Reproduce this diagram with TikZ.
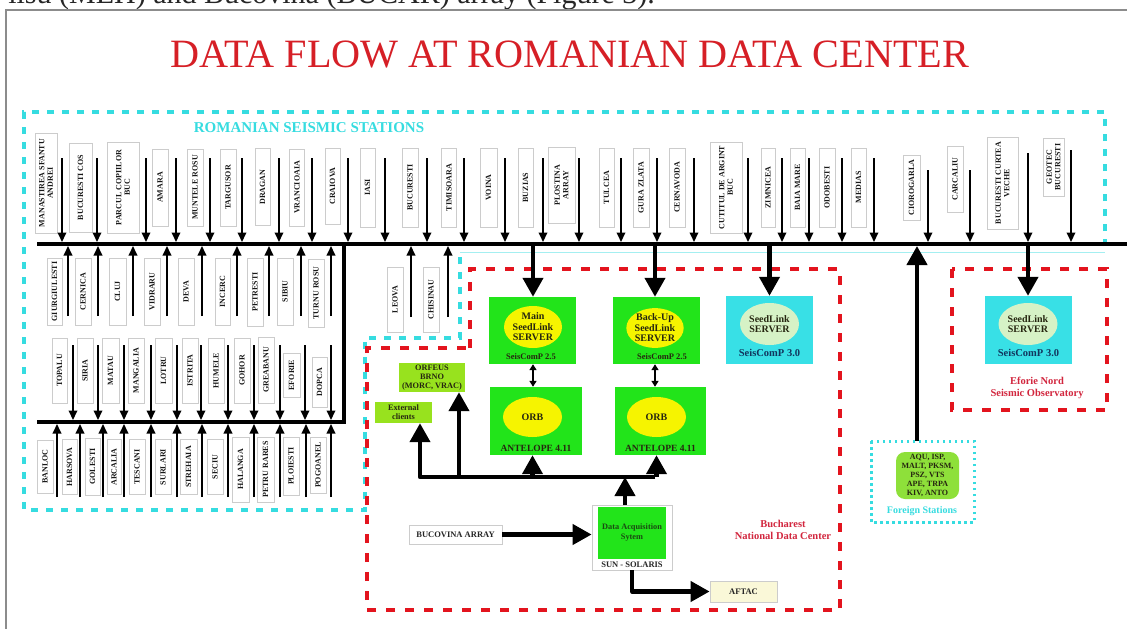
\documentclass[tikz,border=0pt]{standalone}
\usepackage{fontspec}
\setmainfont{Liberation Serif}
\usetikzlibrary{arrows.meta,shapes.geometric,calc}
\definecolor{tred}{HTML}{D61F26}
\definecolor{cyn}{HTML}{36DCE0}
\definecolor{rdc}{HTML}{E3141E}
\definecolor{grn}{HTML}{22E41A}
\definecolor{ylw}{HTML}{F6F400}
\definecolor{cbox}{HTML}{38E0E6}
\definecolor{lgell}{HTML}{D6F2C6}
\definecolor{lime}{HTML}{98E21E}
\definecolor{fgrn}{HTML}{8EE03A}
\definecolor{aftc}{HTML}{FAF8D8}
\definecolor{ndcred}{HTML}{D2263E}
\definecolor{dtxt}{HTML}{262610}
\definecolor{navy}{HTML}{12365E}
\definecolor{dasg}{HTML}{1A4A12}
\newcommand\stnode[6]{\node[stn, minimum width=#4pt, minimum height=#5pt] (#1) at (#2,#3) {#6};}
\begin{document}
\begin{tikzpicture}[x=1pt,y=-1pt,
  stn/.style={draw=black!20, line width=0.7pt, fill=white, inner sep=0pt, align=center, rotate=90,
    font=\bfseries\fontsize{8}{8.6}\selectfont, text=black!90},
  sarr/.style={line width=2pt, -{Triangle[width=8.5pt,length=9.5pt]}},
  barr/.style={line width=4.2pt, line join=round, -{Triangle[width=20pt,length=19pt]}},
  darr/.style={line width=1.8pt, {Triangle[width=7pt,length=6pt]}-{Triangle[width=7pt,length=6pt]}},
  cdash/.style={cyn, line width=3.5pt, dash pattern=on 7pt off 8pt},
  rdash/.style={rdc, line width=3.5pt, dash pattern=on 9pt off 10pt},
  gbox/.style={fill=grn, draw=none, inner sep=0pt},
  cybox/.style={fill=cbox, draw=none, inner sep=0pt},
  yell/.style={ellipse, fill=ylw, inner sep=0pt, align=center, text=dtxt,
    font=\bfseries\fontsize{10}{10.5}\selectfont},
  lgel/.style={ellipse, fill=lgell, inner sep=0pt, align=center, text=dtxt,
    font=\bfseries\fontsize{10}{10.5}\selectfont},
  sclbl/.style={inner sep=0pt, font=\bfseries\fontsize{8.5}{9}\selectfont, text=dtxt},
  sc3lbl/.style={inner sep=0pt, font=\bfseries\fontsize{10.5}{11}\selectfont, text=navy},
  lbox/.style={fill=lime, draw=none, inner sep=0pt, align=center, text=dtxt,
    font=\bfseries\fontsize{8.3}{9}\selectfont},
  wbox/.style={fill=white, draw=black!20, line width=0.8pt, inner sep=0pt, align=center,
    font=\bfseries\fontsize{8.5}{9}\selectfont, text=black!85},
  redlbl/.style={inner sep=0pt, align=center, text=ndcred, font=\bfseries\fontsize{10.5}{12}\selectfont}
]
\useasboundingbox (0,0) rectangle (1127,629);
\fill[white] (0,0) rectangle (1127,629);

% page text cut at top and frame
\node[anchor=base east, inner sep=0pt, text=black!85, font=\fontsize{30}{32}\selectfont] (ptxt) at (655,3) {ilsu (MEH) and Bucovina (BUCAR) array (Figure 3).};
\draw[black!45, line width=1.2pt] (6,629) -- (6,10) -- (1127,10);

% title
\node[anchor=base, inner sep=0pt, text=tred, font=\fontsize{40.2}{41}\selectfont] (title) at (570,67) {DATA FLOW AT ROMANIAN DATA CENTER};

% region outlines
\draw[cyn!45, line width=1pt] (460,252) -- (1105,252);
\draw[cdash] (1105,246) -- (1105,112) -- (24,112) -- (24,510) -- (365,510) -- (365,338) -- (460,338) -- (460,256);
\draw[rdash] (470,348) -- (470,269) -- (840,269) -- (840,610) -- (367,610) -- (367,348) -- cycle;
\draw[rdash] (952,269) rectangle (1107,410);

\node[inner sep=0pt, text=cyn, font=\bfseries\fontsize{15}{16}\selectfont] (rsl) at (309,128) {ROMANIAN SEISMIC STATIONS};

% buses
\coordinate (busL) at (37,244);
\coordinate (busR) at (1127,244);
\coordinate (busT) at (0,242);
\coordinate (busB) at (0,246);
\coordinate (bus2L) at (37,422);
\coordinate (bus2C) at (344,422);
\coordinate (bus2T) at (0,420);
\coordinate (bus2B) at (0,424);
\draw[line width=4pt] (busL) -- (busR);
\draw[line width=4pt, line join=miter] (bus2L) -- (bus2C) -- (bus2C |- busL);

% top row stations
\stnode{t1}{46}{183}{100}{22}{MANASTIREA SFANTU\\ANDREI}
\stnode{t2}{80.5}{187.5}{89}{23}{BUCURESTI COS}
\stnode{t3}{123}{187.5}{91}{32}{PARCUL COPIILOR\\BUC}
\stnode{t4}{160}{187.5}{77}{16}{AMARA}
\stnode{t5}{195}{187.5}{77}{16}{MUNTELE ROSU}
\stnode{t6}{228}{187.5}{77}{16}{TARGUSOR}
\stnode{t7}{262.5}{187}{77}{15}{DRAGAN}
\stnode{t8}{297}{187.5}{77}{15}{VRANCIOAIA}
\stnode{t9}{332.5}{186}{76}{15}{CRAIOVA}
\stnode{t10}{367.5}{187.5}{79}{15}{IASI}
\stnode{t11}{410}{187.5}{79}{16}{BUCURESTI}
\stnode{t12}{449}{187.5}{79}{15}{TIMISOARA}
\stnode{t13}{488.5}{187.5}{79}{17}{VOINA}
\stnode{t14}{525.5}{187.5}{79}{15}{BUZIAS}
\stnode{t15}{561.5}{185}{76}{27}{PLOSTINA\\ARRAY}
\stnode{t16}{606.5}{187.5}{79}{15}{TULCEA}
\stnode{t17}{641}{187.5}{79}{16}{GURA ZLATA}
\stnode{t18}{677}{187.5}{79}{16}{CERNAVODA}
\stnode{t19}{726}{187.5}{91}{32}{CUTITUL DE ARGINT\\BUC}
\stnode{t20}{768}{187.5}{79}{14}{ZIMNICEA}
\stnode{t21}{797.5}{187.5}{79}{15}{BAIA MARE}
\stnode{t22}{827}{187.5}{79}{16}{ODOBESTI}
\stnode{t23}{858.5}{187.5}{79}{15}{MEDIAS}
\stnode{t24}{911.5}{187.5}{65}{17}{CIOROGARLA}
\stnode{t25}{955}{179}{66}{16}{CARCALIU}
\stnode{t26}{1002.5}{183}{92}{31}{BUCURESTI CURTEA\\VECHE}
\stnode{t27}{1053.5}{167}{58}{21}{GEOTEC\\BUCURESTI}
\foreach \x [count=\i] in {62,97,146,176,210,242,279,312,348,385,427,464,505,543,579,621,657,694,748,782,809,842,874}{
  \coordinate (ta\i) at (\x,158);
  \draw[sarr] (ta\i) -- (ta\i |- busT);
}
\coordinate (ta24) at (928,170);
\coordinate (ta25) at (970,170);
\coordinate (ta26) at (1028,153);
\coordinate (ta27) at (1071,150);
\foreach \i in {24,25,26,27}{\draw[sarr] (ta\i) -- (ta\i |- busT);}

% second row (below bus)
\stnode{m1}{54.5}{291.5}{67}{15}{GIURGIULESTI}
\stnode{m2}{83}{291.5}{67}{16}{CERNICA}
\stnode{m3}{117.5}{291.5}{67}{17}{CLUJ}
\stnode{m4}{152}{291.5}{67}{16}{VIDRARU}
\stnode{m5}{186}{291.5}{67}{16}{DEVA}
\stnode{m6}{222.5}{291.5}{67}{15}{INCERC}
\stnode{m7}{255}{292}{68}{16}{PETRESTI}
\stnode{m8}{285}{291.5}{67}{16}{SIBIU}
\stnode{m9}{316}{293}{68}{16}{TURNU ROSU}
\foreach \x [count=\i] in {68,98,133,167,202,237,269,301,331}{
  \coordinate (ma\i) at (\x,316);
  \draw[sarr] (ma\i) -- (ma\i |- busB);
}

% third row (above second bus)
\stnode{n1}{59.5}{370.5}{65}{15}{TOPALU}
\stnode{n2}{85}{370.5}{65}{16}{SIRIA}
\stnode{n3}{110.5}{370.5}{65}{17}{MATAU}
\stnode{n4}{136}{370.5}{65}{16}{MANGALIA}
\stnode{n5}{163.5}{370.5}{65}{17}{LOTRU}
\stnode{n6}{190}{370.5}{65}{16}{ISTRITA}
\stnode{n7}{216}{370.5}{65}{16}{HUMELE}
\stnode{n8}{242}{370.5}{65}{16}{GOHOR}
\stnode{n9}{266}{370}{66}{16}{GREABANU}
\stnode{n10}{291.5}{375}{44}{17}{EFORIE}
\stnode{n11}{319.5}{382}{50}{15}{DOPCA}
\foreach \x [count=\i] in {73,98,124,151,177,201,228,254,280,305,331}{
  \coordinate (na\i) at (\x,345);
  \draw[sarr] (na\i) -- (na\i |- bus2T);
}

% fourth row (below second bus)
\stnode{b1}{45}{466.5}{53}{16}{BANLOC}
\stnode{b2}{69.5}{467}{55}{15}{HARSOVA}
\stnode{b3}{92.5}{466.5}{57}{15}{GOLESTI}
\stnode{b4}{114}{467}{55}{14}{ARCALIA}
\stnode{b5}{137}{467}{55}{16}{TESCANI}
\stnode{b6}{163}{467}{55}{16}{SURLARI}
\stnode{b7}{188.5}{467}{55}{17}{STREHAIA}
\stnode{b8}{215}{467}{55}{16}{SECIU}
\stnode{b9}{240.5}{469.5}{65}{17}{HALANGA}
\stnode{b10}{265.5}{469.5}{65}{17}{PETRU RARES}
\stnode{b11}{291}{466}{58}{16}{PLOIESTI}
\stnode{b12}{318}{465}{56}{16}{POGOANEL}
\foreach \x [count=\i] in {57,80,103,124,151,177,202,228,254,280,306,331}{
  \coordinate (ba\i) at (\x,497);
  \draw[sarr] (ba\i) -- (ba\i |- bus2B);
}

% Leova, Chisinau
\stnode{lv}{395}{299.5}{65}{16}{LEOVA}
\stnode{ch}{431}{299.5}{65}{16}{CHISINAU}
\coordinate (lva) at (411,317);
\coordinate (cha) at (448,317);
\draw[sarr] (lva) -- (lva |- busB);
\draw[sarr] (cha) -- (cha |- busB);

% SeedLink servers
\node[gbox, minimum width=87pt, minimum height=67pt] (msl) at (532.5,330.5) {};
\node[yell, minimum width=58pt, minimum height=42pt] (msle) at (533,327) {Main\\SeedLink\\SERVER};
\node[sclbl] (mslt) at (531,357) {SeisComP 2.5};
\node[gbox, minimum width=87pt, minimum height=67pt] (bsl) at (656.5,330.5) {};
\node[yell, minimum width=55pt, minimum height=39pt] (bsle) at (655,328) {Back-Up\\SeedLink\\SERVER};
\node[sclbl] (bslt) at (662,357) {SeisComP 2.5};
\node[cybox, minimum width=87pt, minimum height=68pt] (c1) at (769.5,330) {};
\node[lgel, minimum width=59pt, minimum height=42pt] (c1e) at (769.5,324) {SeedLink\\SERVER};
\node[sc3lbl] (c1t) at (769.5,353) {SeisComP 3.0};
\node[cybox, minimum width=87pt, minimum height=68pt] (c2) at (1028.5,330) {};
\node[lgel, minimum width=59pt, minimum height=42pt] (c2e) at (1028,324) {SeedLink\\SERVER};
\node[sc3lbl] (c2t) at (1028.5,353) {SeisComP 3.0};

\draw[barr] (msle |- busB) -- (msle |- msl.north);
\draw[barr] (bsle |- busB) -- (bsle |- bsl.north);
\draw[barr] (c1e |- busB) -- (c1e |- c1.north);
\draw[barr] (c2e |- busB) -- (c2e |- c2.north);

% ORB
\node[gbox, minimum width=92pt, minimum height=68pt] (orb1) at (536,421) {};
\node[yell, minimum width=59pt, minimum height=40pt] (orb1e) at (532.5,417) {ORB};
\node[sclbl, font=\bfseries\fontsize{9.5}{10}\selectfont] (orb1t) at (536,448) {ANTELOPE 4.11};
\node[gbox, minimum width=91pt, minimum height=68pt] (orb2) at (660.5,421) {};
\node[yell, minimum width=59pt, minimum height=40pt] (orb2e) at (656.5,417) {ORB};
\node[sclbl, font=\bfseries\fontsize{9.5}{10}\selectfont] (orb2t) at (660.5,448) {ANTELOPE 4.11};

\draw[darr] (msle |- msl.south) -- (msle |- orb1.north);
\draw[darr] (bsle |- bsl.south) -- (bsle |- orb2.north);

% clients
\node[lbox, minimum width=66pt, minimum height=29pt] (orf) at (432,377.5) {ORFEUS\\BRNO\\(MORC, VRAC)};
\node[lbox, minimum width=57pt, minimum height=21pt] (ext) at (403.5,412.5) {External\\clients};

% distribution
\coordinate (dl) at (420,477);
\coordinate (dr) at (655,477);
\coordinate (d2) at (459,477);
\draw[barr] (dr) -- (dl) -- (dl |- ext.south);
\draw[barr] (d2) -- (d2 |- orf.south);
\draw[barr] (orb1e |- dl) -- (orb1e |- orb1.south);
\draw[barr] (orb2e |- dl) -- (orb2e |- orb2.south);

% data acquisition
\node[wbox, minimum width=80pt, minimum height=65pt] (das) at (632,537.5) {};
\node[gbox, minimum width=68pt, minimum height=52pt, align=center, text=dasg,
  font=\bfseries\fontsize{8.3}{10}\selectfont] (dasin) at (632,533) {Data Acquisition\\Sytem};
\node[sclbl, text=black!85, font=\bfseries\fontsize{8.5}{9}\selectfont] (dast) at (632,564.5) {SUN - SOLARIS};
\coordinate (dasn) at (625,505);
\draw[barr] (dasn) -- (dasn |- dl);

\node[wbox, minimum width=93pt, minimum height=19pt] (buc) at (455.5,534.5) {BUCOVINA ARRAY};
\draw[barr] (buc.east) -- (buc.east -| das.west);

\node[wbox, fill=aftc, minimum width=67pt, minimum height=21pt] (aft) at (743.5,591.5) {AFTAC};
\draw[barr] (das.south) |- (aft.west);

\node[redlbl] (ndc) at (783,530) {Bucharest\\National Data Center};
\node[redlbl] (efl) at (1037,388) {Eforie Nord\\Seismic Observatory};

% foreign stations
\draw[cyn, line width=3pt, dash pattern=on 2.5pt off 3.5pt] (871,441) rectangle (974,522);
\coordinate (fsn) at (917,441);
\node[fill=fgrn, rounded corners=9pt, minimum width=63pt, minimum height=47pt, inner sep=0pt, align=center,
  text=dtxt, font=\bfseries\fontsize{8}{9}\selectfont] (fs) at (927.5,475.5) {AQU, ISP,\\MALT, PKSM,\\PSZ, VTS\\APE, TRPA\\KIV, ANTO};
\node[inner sep=0pt, text=cyn, font=\bfseries\fontsize{10}{11}\selectfont] (fst) at (922,511) {Foreign Stations};
\draw[barr] (fsn) -- (fsn |- busB);
\end{tikzpicture}
\end{document}
